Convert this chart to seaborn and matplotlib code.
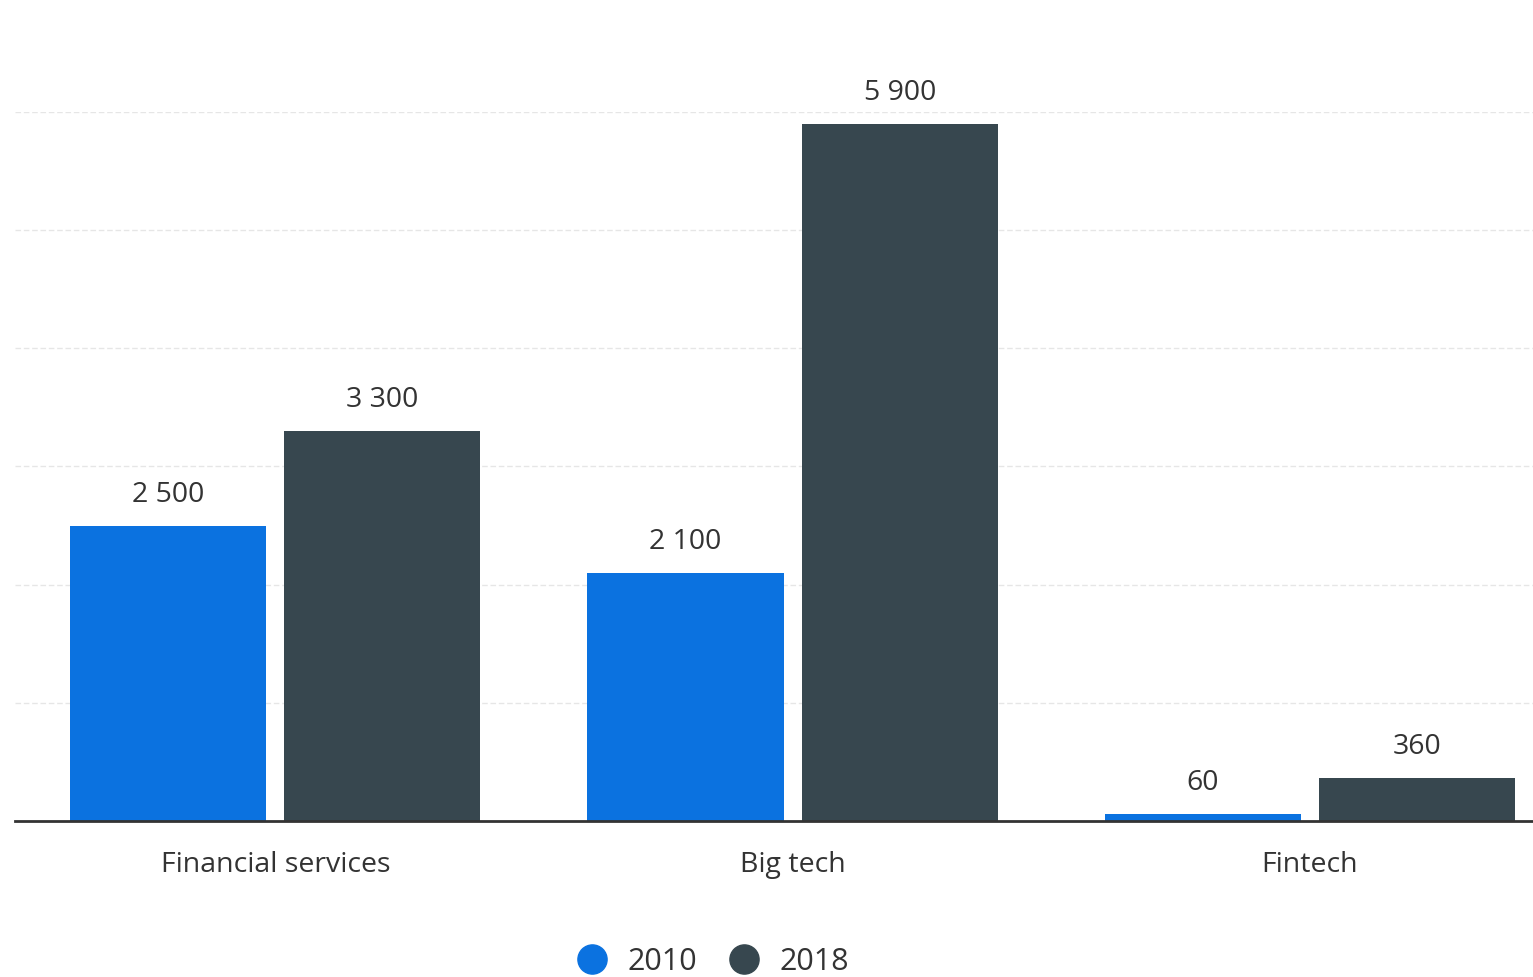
import matplotlib

matplotlib.use("Agg")

import matplotlib.pyplot as plt
import pandas as pd
import seaborn as sns
from matplotlib.lines import Line2D

CATEGORIES = ["Financial services", "Big tech", "Fintech"]
YEARS = ["2010", "2018"]
VALUES_2010 = [2500, 2100, 60]
VALUES_2018 = [3300, 5900, 360]
GRID_TICKS = [1000, 2000, 3000, 4000, 5000, 6000]

COLORS = ["#0b72e0", "#37474f"]
TEXT_COLOR = "#333333"


def fmt_value(v: float) -> str:
    return f"{int(round(v)):,}".replace(",", " ")


def build_frame() -> pd.DataFrame:
    rows = []
    for year, values in zip(YEARS, [VALUES_2010, VALUES_2018]):
        for cat, val in zip(CATEGORIES, values):
            rows.append({"category": cat, "year": year, "value": val})
    return pd.DataFrame(rows)


def main() -> None:
    df = build_frame()
    sns.set_theme(style="white")
    plt.rcParams["font.family"] = ["Open Sans", "DejaVu Sans"]

    fig = plt.figure(figsize=(15.33, 9.78), dpi=100)
    ax = fig.add_axes([0.0098, 0.1595, 0.9902, 0.725])

    sns.barplot(
        data=df,
        x="category",
        y="value",
        hue="year",
        order=CATEGORIES,
        hue_order=YEARS,
        palette=COLORS,
        saturation=1,
        width=0.828,
        gap=0.084,
        linewidth=0,
        legend=False,
        ax=ax,
        zorder=3,
    )

    for container in ax.containers:
        ax.bar_label(
            container,
            labels=[fmt_value(b.get_height()) for b in container],
            padding=13,
            fontsize=20.5,
            color=TEXT_COLOR,
            clip_on=False,
        )

    ax.set_ylim(0, 6000)
    ax.set_xlim(-0.503, 2.431)
    ax.set_yticks(GRID_TICKS)
    ax.set_yticklabels([])
    ax.tick_params(axis="y", length=0)
    ax.tick_params(axis="x", length=0, pad=21, labelsize=20.5, labelcolor=TEXT_COLOR)
    ax.yaxis.grid(True, color="#e6e6e6", linestyle=(0, (4, 2)), linewidth=1.0, zorder=0)
    ax.set_xlabel("")
    ax.set_ylabel("")

    for side in ["top", "right", "left"]:
        ax.spines[side].set_visible(False)
    ax.spines["bottom"].set_color(TEXT_COLOR)
    ax.spines["bottom"].set_linewidth(2)
    ax.spines["bottom"].set_zorder(4)

    handles = [
        Line2D([], [], marker="o", linestyle="", markersize=21, color=c, label=y)
        for c, y in zip(COLORS, YEARS)
    ]
    fig.legend(
        handles=handles,
        loc="center",
        bbox_to_anchor=(0.46, 0.016),
        ncol=2,
        frameon=False,
        fontsize=22,
        handletextpad=0.15,
        columnspacing=0.55,
        labelcolor=TEXT_COLOR,
    )

    fig.savefig("out.png", dpi=100)
    plt.close(fig)


if __name__ == "__main__":
    main()
